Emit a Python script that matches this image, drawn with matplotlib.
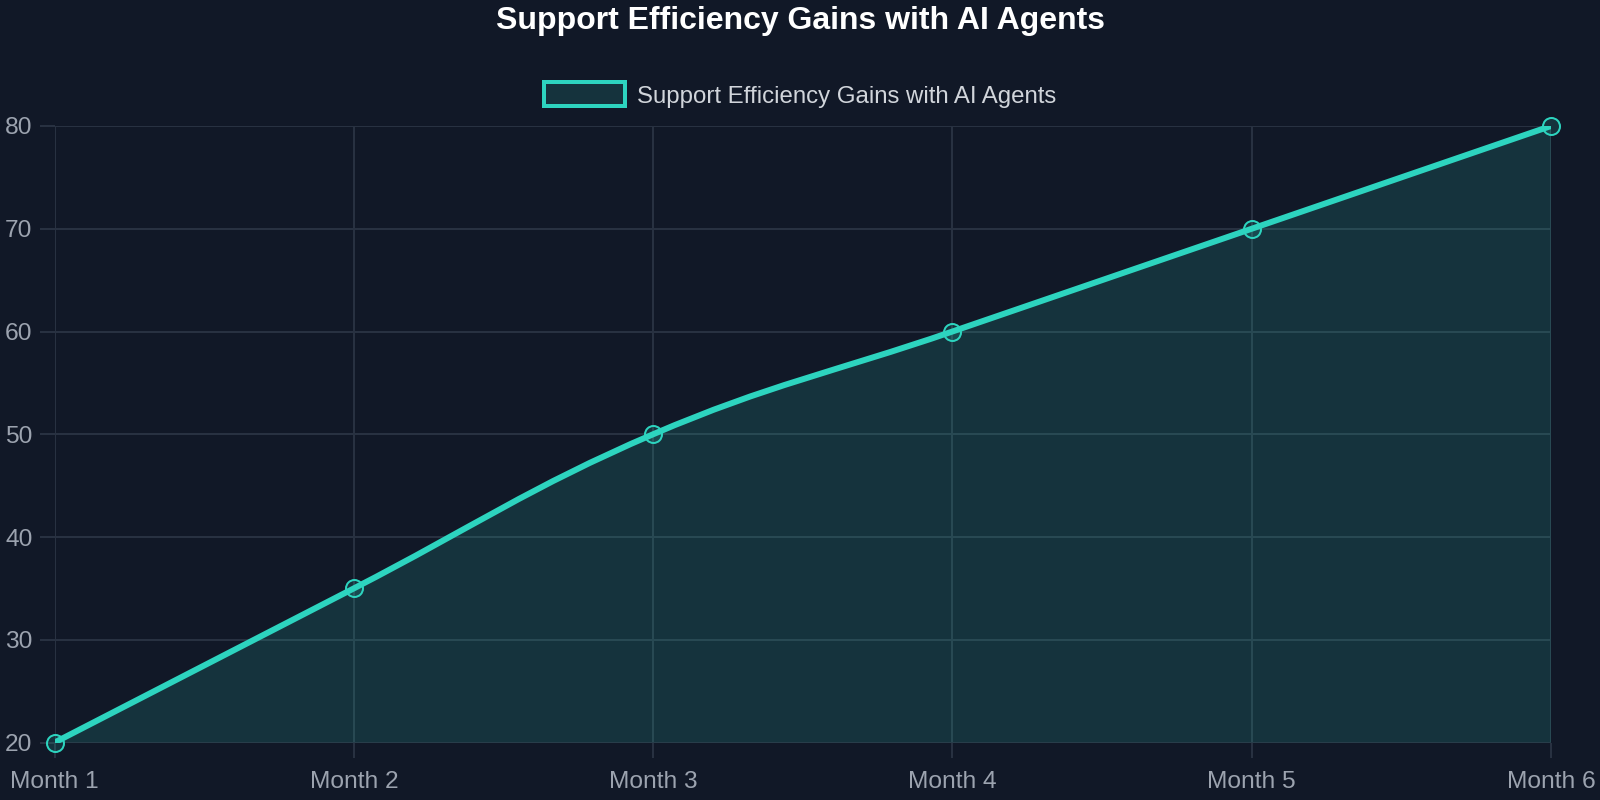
import numpy as np
import matplotlib
matplotlib.use("Agg")
import matplotlib.pyplot as plt
from matplotlib.path import Path
from matplotlib.patches import PathPatch, Patch

plt.rcParams['font.family'] = ['Liberation Sans', 'DejaVu Sans']

# ---- data ----
categories = ["Month 1", "Month 2", "Month 3", "Month 4", "Month 5", "Month 6"]
values = [20, 35, 50, 60, 70, 80]
y_ticks = [20, 30, 40, 50, 60, 70, 80]
title = "Support Efficiency Gains with AI Agents"
series_label = "Support Efficiency Gains with AI Agents"

# ---- style ----
BG = "#111827"
TEAL = "#2dd4bf"
FILL = (45/255, 212/255, 191/255, 0.15)
GRID = "#283141"
TICK_C = "#9ca3af"
LEG_C = "#d1d5db"
PX = 72 / 100.0  # points per pixel at dpi 100

fig = plt.figure(figsize=(16, 8), dpi=100, facecolor=BG)
ax = fig.add_axes([54.6/1600, 57.5/800, (1551-54.6)/1600, (742.5-126)/800])
ax.set_facecolor(BG)

x = np.arange(len(categories))
ax.set_xlim(0, len(categories) - 1)
ax.set_ylim(min(y_ticks), max(y_ticks))
ax.set_xticks(x)
ax.set_xticklabels(categories)
ax.set_yticks(y_ticks)
for s in ax.spines.values():
    s.set_visible(False)
ax.set_axisbelow(True)
ax.grid(True, color=GRID, linewidth=2*PX)
ax.tick_params(axis='both', length=15*PX, width=2*PX, color=GRID,
               labelcolor=TICK_C, labelsize=24.5*PX)
ax.tick_params(axis='y', pad=7*PX)
ax.tick_params(axis='x', pad=13*PX)

# ---- Chart.js style spline (tension 0.4) computed in pixel space ----
fig.canvas.draw()
pts = ax.transData.transform(np.column_stack([x, values]))
t = 0.4
n = len(pts)
cps_prev, cps_next = [], []
prev = pts[0]
for i in range(n):
    cur = pts[i]
    nxt = pts[min(i + 1, n - 1)]
    d01 = np.hypot(*(cur - prev))
    d12 = np.hypot(*(nxt - cur))
    tot = d01 + d12
    s01 = d01 / tot if tot else 0.0
    s12 = d12 / tot if tot else 0.0
    cps_prev.append(cur - t * s01 * (nxt - prev))
    cps_next.append(cur + t * s12 * (nxt - prev))
    prev = cur

verts = [pts[0]]
codes = [Path.MOVETO]
for i in range(n - 1):
    verts += [cps_next[i], cps_prev[i + 1], pts[i + 1]]
    codes += [Path.CURVE4] * 3
inv = ax.transData.inverted()
verts_data = inv.transform(np.array(verts))

line_path = Path(verts_data, codes)
base = min(y_ticks)
fill_verts = np.vstack([verts_data, [[x[-1], base], [x[0], base], [x[0], base]]])
fill_codes = codes + [Path.LINETO, Path.LINETO, Path.CLOSEPOLY]
fill_path = Path(fill_verts, fill_codes)

ax.add_patch(PathPatch(fill_path, facecolor=FILL, edgecolor='none', zorder=2))
ax.add_patch(PathPatch(line_path, facecolor='none', edgecolor=TEAL,
                       linewidth=6*PX, capstyle='butt', joinstyle='round', zorder=3))
ax.plot(x, values, linestyle='none', marker='o', markersize=17*PX,
        markerfacecolor=FILL, markeredgecolor=TEAL, markeredgewidth=2*PX,
        zorder=4, clip_on=False)

# ---- title & legend ----
fig.text(0.5, 1 - 21/800, title, ha='center', va='center', color='white',
         fontsize=32*PX, fontweight='bold')
handle = Patch(facecolor=FILL, edgecolor=TEAL, linewidth=4*PX)
leg = fig.legend([handle], [series_label], loc='center',
                 bbox_to_anchor=(0.5, 1 - 95/800), frameon=False,
                 fontsize=24*PX, handlelength=3.4, handleheight=1.15,
                 handletextpad=0.5, borderaxespad=0)
for txt in leg.get_texts():
    txt.set_color(LEG_C)

fig.savefig("out.png", dpi=100, facecolor=BG)
